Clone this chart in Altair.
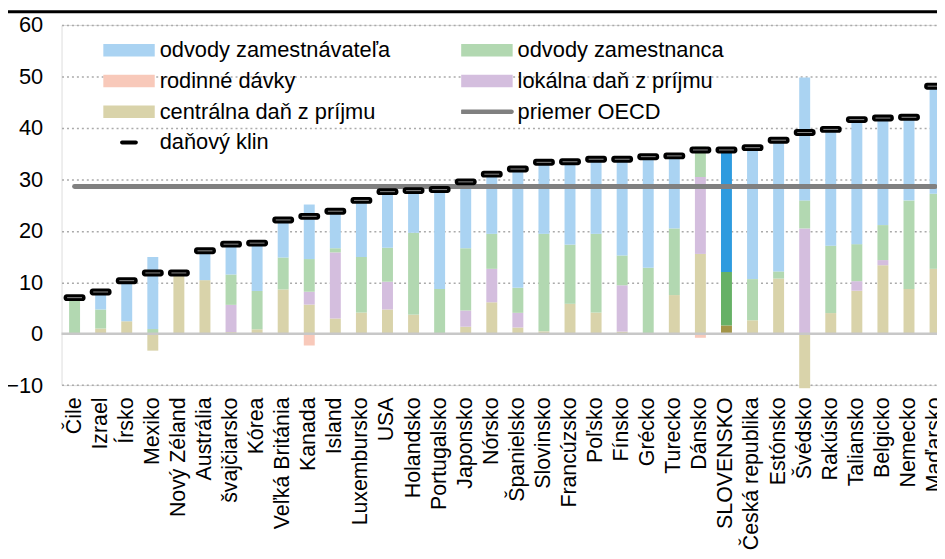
import altair as alt
import pandas as pd

krajiny = ["Čile", "Izrael", "Írsko", "Mexiko", "Nový Zéland", "Austrália", "švajčiarsko", "Kórea",
           "Veľká Británia", "Kanada", "Island", "Luxembursko", "USA", "Holandsko", "Portugalsko",
           "Japonsko", "Nórsko", "Španielsko", "Slovinsko", "Francúzsko", "Poľsko", "Fínsko", "Grécko",
           "Turecko", "Dánsko", "SLOVENSKO", "Česká republika", "Estónsko", "Švédsko", "Rakúsko",
           "Taliansko", "Belgicko", "Nemecko", "Maďarsko"]

centralna = [0, 1.0, 2.4, -3.3, 11.8, 10.4, 0.3, 0.85, 8.6, 5.65, 2.95, 4.1, 4.7, 3.7, 0,
             1.35, 6.1, 1.2, 0.45, 5.8, 4.1, 0.4, 0, 7.5, 15.5, 1.6, 2.6, 10.7, -10.6, 4.0,
             8.35, 13.3, 8.7, 12.6]
lokalna = [0, 0, 0, 0, 0, 0, 5.3, 0, 0, 2.5, 12.85, 0, 5.4, 0, 0,
           3.15, 6.5, 2.85, 0, 0, 0, 9.0, 0, 0, 14.95, 0, 0, 0, 20.45, 0,
           1.85, 1.0, 0, 0]
zamestnanec = [7.0, 3.7, 0, 0.9, 0, 0, 5.9, 7.45, 6.2, 6.35, 0.8, 10.8, 6.6, 15.9, 8.7,
               12.1, 6.8, 4.85, 18.95, 11.5, 15.3, 5.8, 12.8, 12.95, 5.9, 10.4, 8.0, 1.4, 5.45, 13.1,
               7.2, 6.8, 17.2, 14.6]
zamestnavatel = [0, 3.4, 7.9, 14.0, 0, 5.7, 5.9, 9.3, 7.3, 10.6, 7.2, 11.0, 10.9, 8.2, 19.3,
                 12.9, 11.6, 23.1, 13.9, 16.1, 14.5, 18.7, 21.6, 14.1, 0, 23.7, 25.55, 25.5, 23.9, 22.6,
                 24.2, 20.8, 16.15, 20.9]
rodinne = [0, 0, 0, 0, 0, 0, 0, 0, 0, -2.3, 0, 0, 0, 0, 0,
           0, 0, 0, 0, 0, 0, 0, 0, 0, -0.8, 0, 0, 0, 0, 0,
           0, 0, 0, 0]
danovy_klin = [7.0, 8.1, 10.3, 11.8, 11.8, 16.1, 17.4, 17.6, 22.1, 22.8, 23.8, 25.9, 27.6, 27.8, 28.0,
               29.5, 31.0, 32.0, 33.3, 33.4, 33.9, 33.9, 34.4, 34.55, 35.7, 35.7, 36.15, 37.6, 39.1, 39.7,
               41.6, 41.9, 42.05, 48.1]
priemer_oecd = 28.6

zlozky = ["odvody zamestnávateľa", "odvody zamestnanca", "rodinné dávky",
          "lokálna daň z príjmu", "centrálna daň z príjmu", "priemer OECD", "daňový klin"]
farby = ["#AAD3F2", "#B2D8B1", "#F8C9BA", "#D4BEDE", "#D9D3AA", "#808080", "#000000"]
farby_sk = ["#2E9BDF", "#66B166", "#F8C9BA", "#D4BEDE", "#A39547", "#808080", "#000000"]

series = {
    "centrálna daň z príjmu": (centralna, 1),
    "lokálna daň z príjmu": (lokalna, 2),
    "odvody zamestnanca": (zamestnanec, 3),
    "odvody zamestnávateľa": (zamestnavatel, 4),
    "rodinné dávky": (rodinne, 0),
}
rows = []
for name, (vals, order) in series.items():
    for k, v in zip(krajiny, vals):
        if v != 0:
            rows.append({"krajina": k, "zložka": name, "hodnota": v, "poradie": order})
bars_df = pd.DataFrame(rows)
klin_df = pd.DataFrame({"krajina": krajiny, "klin": danovy_klin})
oecd_df = pd.DataFrame({"krajina": krajiny, "oecd": [priemer_oecd] * len(krajiny)})

FONT = "Liberation Sans"

xenc = alt.X("krajina:N", sort=krajiny,
             scale=alt.Scale(type="band", domain=krajiny, paddingInner=0.58, paddingOuter=0.29),
             axis=alt.Axis(title=None, labelAngle=-90, labelFont=FONT, labelFontSize=21.5,
                           labelColor="black", ticks=False, domain=False, labelPadding=12,
                           labelLimit=400, grid=False))
yscale = alt.Scale(domain=[-10, 60], nice=False, zero=False)
yaxis = alt.Axis(title=None, values=list(range(-10, 61, 10)), labelFont=FONT, labelFontSize=22,
                 labelColor="black", ticks=False, domain=False, labelPadding=19,
                 grid=True, gridDash=[2, 3], gridColor="#aaaaaa", gridWidth=1.5)

rect_path = "M-1,-0.24H1V0.24H-1Z"
line_path = "M-0.96,-0.085H0.96A0.085,0.085 0 0 1 0.96,0.085H-0.96A0.085,0.085 0 0 1 -0.96,-0.085Z"
dash_path = "M-0.27,-0.075H0.27A0.075,0.075 0 0 1 0.27,0.075H-0.27A0.075,0.075 0 0 1 -0.27,-0.075Z"
shape_expr = ("datum.label === 'priemer OECD' ? '" + line_path + "' : datum.label === 'daňový klin' ? '"
              + dash_path + "' : '" + rect_path + "'")

legend = alt.Legend(orient="none", legendX=42, legendY=13.6, columns=2, direction="horizontal",
                    columnPadding=71, rowPadding=7, clipHeight=24,
                    symbolType=alt.ExprRef(expr=shape_expr), symbolSize=2704,
                    symbolStrokeWidth=0, labelFont=FONT, labelFontSize=22, labelColor="black",
                    labelOffset=5, labelLimit=400, title=None, padding=0)

bars = alt.Chart(bars_df).transform_filter(alt.datum.krajina != "SLOVENSKO").mark_bar().encode(
    x=xenc,
    y=alt.Y("hodnota:Q", stack="zero", scale=yscale, axis=yaxis),
    color=alt.Color("zložka:N", scale=alt.Scale(domain=zlozky, range=farby), legend=legend),
    order=alt.Order("poradie:Q"),
)
bars_sk = alt.Chart(bars_df).transform_filter(alt.datum.krajina == "SLOVENSKO").mark_bar().encode(
    x=xenc,
    y=alt.Y("hodnota:Q", stack="zero", scale=yscale, axis=yaxis),
    color=alt.Color("zložka:N", scale=alt.Scale(domain=zlozky, range=farby_sk), legend=None),
    order=alt.Order("poradie:Q"),
)
zero = alt.Chart(pd.DataFrame({"y": [0]})).mark_rule(color="#c8c8c8", strokeWidth=2.5).encode(
    y=alt.Y("y:Q", scale=yscale, axis=yaxis))
oecd = alt.Chart(oecd_df).mark_line(color="#808080", strokeWidth=5, strokeCap="round").encode(
    x=xenc, y=alt.Y("oecd:Q", scale=yscale, axis=yaxis))
klin_outer = alt.Chart(klin_df).mark_tick(color="black", thickness=7, size=22, cornerRadius=3,
                                         opacity=1).encode(
    x=xenc, y=alt.Y("klin:Q", scale=yscale, axis=yaxis))
klin_inner = alt.Chart(klin_df).mark_tick(color="#8a8a8a", thickness=1, size=15, opacity=1).encode(
    x=xenc, y=alt.Y("klin:Q", scale=yscale, axis=yaxis))
top_rule = alt.Chart(pd.DataFrame({"a": [0]})).mark_rule(color="black", strokeWidth=3).encode(
    x=alt.value(-60), x2=alt.value(920), y=alt.value(-13.2))

chart = alt.layer(bars, bars_sk, zero, oecd, klin_outer, klin_inner, top_rule).resolve_scale(
    color="independent"
).properties(
    width=894.2, height=363.3,
    autosize=alt.AutoSizeParams(type="none"),
    padding={"left": 54, "top": 14.7, "right": -11.2, "bottom": 173},
).configure_view(stroke="black", strokeWidth=2).configure(background="white")

chart.save("out.html", embed_options={"renderer": "svg", "actions": False})
